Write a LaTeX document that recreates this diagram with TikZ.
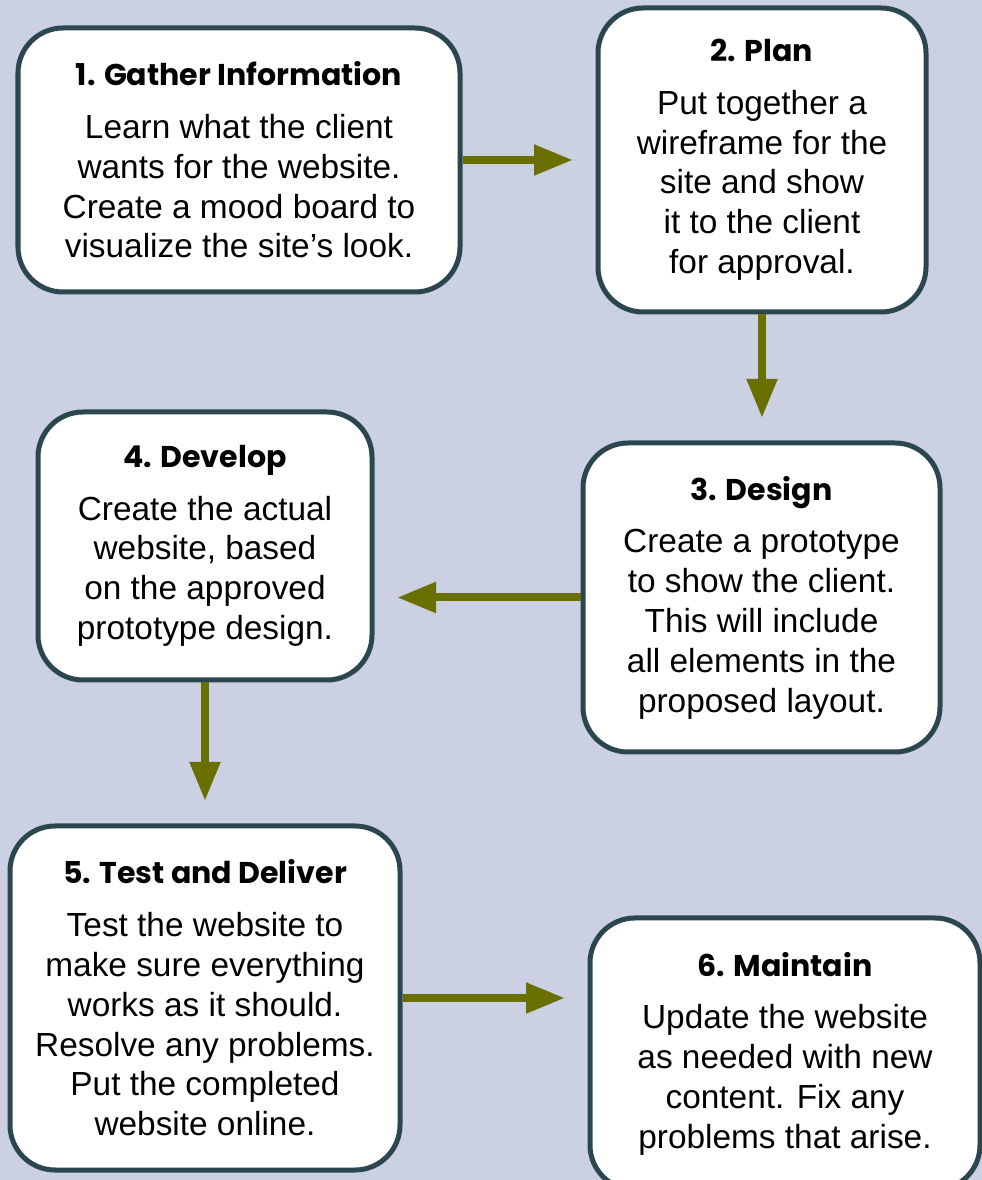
\documentclass[tikz,border=0pt]{standalone}
\usepackage{fontspec}
\setmainfont{Liberation Sans}
\newfontfamily\titlefont{Poppins}
\usepackage{tikz}
\usetikzlibrary{arrows.meta}
\usetikzlibrary{positioning}
\definecolor{pagebg}{HTML}{CBD1E2}
\definecolor{boxline}{HTML}{2C4650}
\definecolor{flowolive}{HTML}{6A7000}
\tikzset{
  stagebox/.style={draw=boxline, line width=0.1cm, fill=white, rounded corners=0.9cm,
    align=center, font=\fontsize{19}{22.7}\selectfont, inner sep=0pt},
  flowarrow/.style={draw=flowolive, line width=0.16cm,
    -{Triangle[length=0.78cm, width=0.58cm]}, shorten >=0.45cm},
}
\newcommand{\stagetitle}[1]{{\titlefont\bfseries\fontsize{17.1}{22.7}\selectfont #1}\\[0.25cm]}
\begin{document}
\begin{tikzpicture}
                \fill [pagebg] (0, 0) rectangle (19.64, 23.6);
                \useasboundingbox (0, 0) rectangle (19.64, 23.6);
                \node [stagebox, minimum width=8.84cm, minimum height=5.28cm] (gather) at (4.78, 20.4)
                  {\stagetitle{1. Gather Information}Learn what the client\\wants for the website.\\Create a mood board to\\visualize the site’s look.};
                \node [stagebox, minimum width=6.56cm, minimum height=6.08cm] (plan) at (15.24, 20.4)
                  {\stagetitle{2. Plan}Put together a\\wireframe for the\\site and show\\it to the client\\for approval.};
                \node [stagebox, minimum width=7.14cm, minimum height=6.18cm] (design) at (15.23, 11.65)
                  {\stagetitle{3. Design}Create a prototype\\to show the client.\\This will include\\all elements in the\\proposed layout.};
                \node [stagebox, minimum width=6.68cm, minimum height=5.36cm] (develop) at (4.1, 12.68)
                  {\stagetitle{4. Develop}Create the actual\\website, based\\on the approved\\prototype design.};
                \node [stagebox, minimum width=7.8cm, minimum height=6.88cm] (deliver) at (4.1, 3.64)
                  {\stagetitle{5. Test and Deliver}Test the website to\\make sure everything\\works as it should.\\Resolve any problems.\\Put the completed\\website online.};
                \node [stagebox, minimum width=7.8cm, minimum height=5.44cm] (maintain) at (15.7, 2.52)
                  {\stagetitle{6. Maintain}Update the website\\as needed with new\\content. Fix any\\problems that arise.};
                \draw [flowarrow] (gather.east) -- (gather.east -| plan.west);
                \draw [flowarrow] (plan.south) -- (plan.south |- design.north);
                \draw [flowarrow] (design.west) -- (design.west -| develop.east);
                \draw [flowarrow] (develop.south) -- (develop.south |- deliver.north);
                \draw [flowarrow] (deliver.east) -- (deliver.east -| maintain.west);
            \end{tikzpicture}
\end{document}
